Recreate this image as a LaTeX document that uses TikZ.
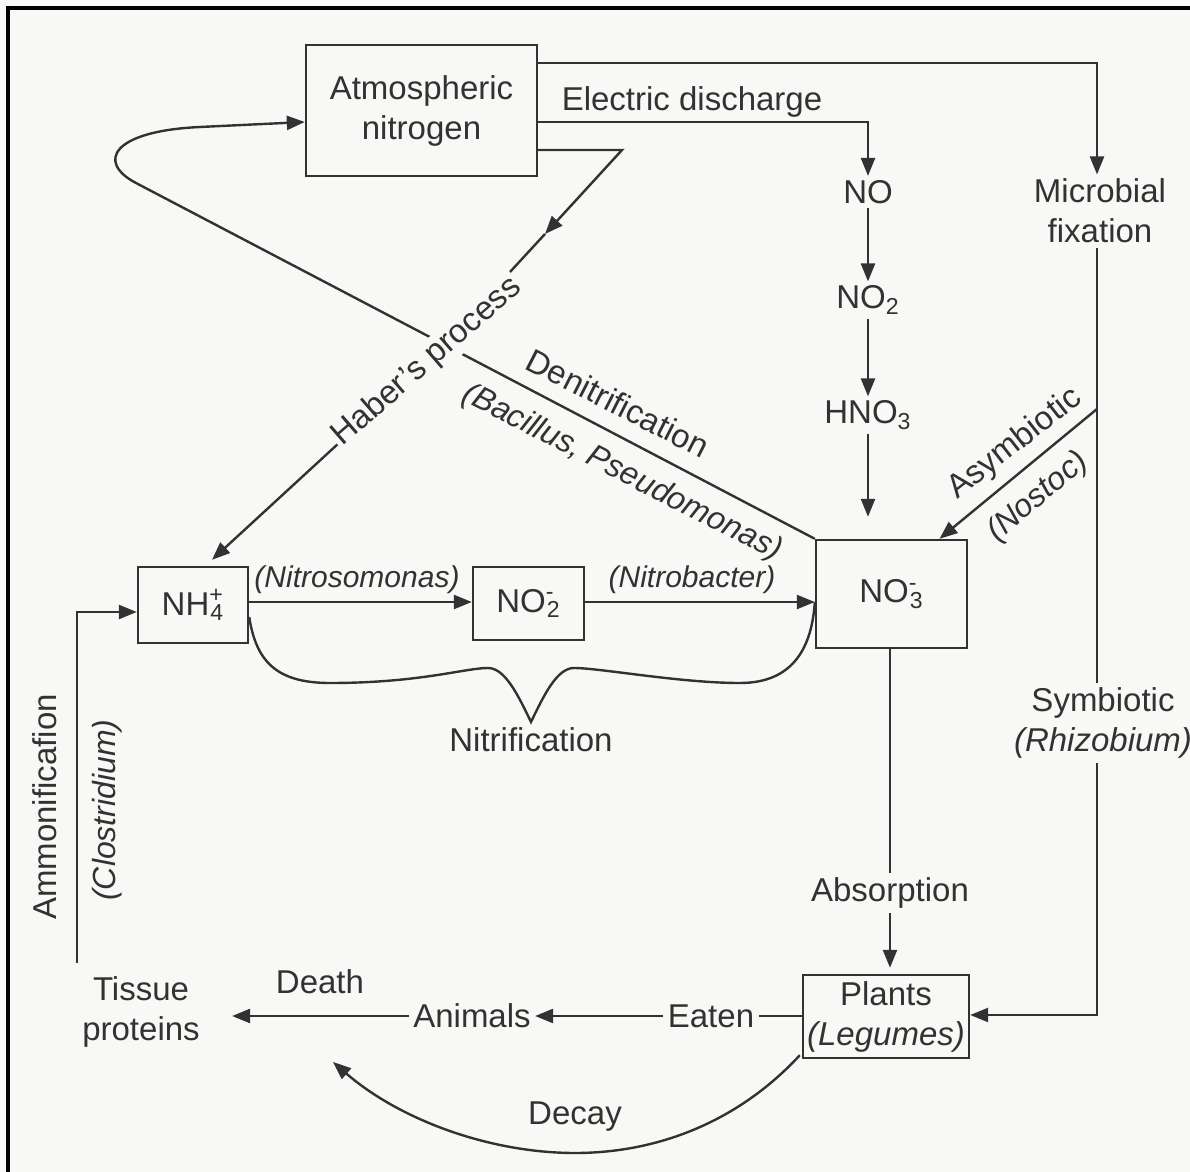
\documentclass[tikz,border=0pt]{standalone}
\usepackage{fontspec}
\setmainfont{Liberation Sans}
\usetikzlibrary{arrows.meta}
\definecolor{bg}{RGB}{248,248,247}
\definecolor{ink}{RGB}{50,50,50}
\newcommand\chemion[3]{#1\textsuperscript{\rlap{#2}}\textsubscript{#3}}
\begin{document}
\begin{tikzpicture}[x=0.5pt,y=-0.5pt,
  lbl/.style={text=ink, font=\fontsize{16.5}{20}\selectfont, inner sep=2pt, align=center},
  ilbl/.style={lbl, font=\fontsize{16}{20}\selectfont\itshape},
  slbl/.style={lbl, font=\fontsize{15}{18}\selectfont\itshape},
  boxn/.style={lbl, draw=ink, line width=1.2pt, inner sep=0pt},
  conn/.style={draw=ink, line width=1.2pt},
  arr/.style={conn, -{Triangle[length=9pt,width=7pt]}},
]
\fill[bg] (0,0) rectangle (1190,1172);
\useasboundingbox (0,0) rectangle (1190,1172);
\draw[line width=2pt] (8,1172) -- (8,8) -- (1190,8);

% boxes
\node[boxn, minimum width=115.5pt, minimum height=65.5pt] (atm) at (421.5,110.5) {Atmospheric\\nitrogen};
\node[boxn, minimum width=55pt, minimum height=38pt] (nh4) at (193,605) {\chemion{NH}{+}{4}};
\node[boxn, minimum width=55.5pt, minimum height=36.5pt] (no2) at (528.5,603.5) {\chemion{NO}{-}{2}};
\node[boxn, minimum width=75.5pt, minimum height=54pt] (no3) at (891.5,594) {\chemion{NO}{-}{3}};
\node[boxn, minimum width=83pt, minimum height=41.5pt] (plants) at (886,1016.5) {Plants\\\textit{(Legumes)}};

% text nodes
\node[lbl] (ed) at (692,102) {Electric discharge};
\node[lbl] (no) at (868,192) {NO};
\node[lbl] (nod) at (868,300) {NO\textsubscript{2}};
\node[lbl] (hno) at (868,415) {HNO\textsubscript{3}};
\node[lbl] (mic) at (1100,211) {Microbial\\fixation};
\node[lbl] (sym) at (1103,723) {Symbiotic\\\textit{(Rhizobium)}};
\node[lbl] (abs) at (890,893) {Absorption};
\node[lbl] (eat) at (711,1016) {Eaten};
\node[lbl] (ani) at (472,1016) {Animals};
\node[lbl] (tis) at (141,1012) {Tissue\\proteins};
\node[lbl] (dea) at (320,982) {Death};
\node[lbl] (dec) at (575,1117) {Decay};
\node[lbl] (nit) at (531,740) {Nitrification};
\node[slbl] (nso) at (357,580) {(Nitrosomonas)};
\node[slbl] (nba) at (692,580) {(Nitrobacter)};
\node[lbl, rotate=-27] (den) at (618,403) {Denitrification};
\node[ilbl, rotate=-27] (bac) at (622,473) {(Bacillus, Pseudomonas)};
\node[lbl, rotate=38] (asy) at (1015,444) {Asymbiotic};
\node[ilbl, rotate=40] (nos) at (1038,497) {(Nostoc)};
\node[lbl, rotate=90] (amm) at (45,807) {Ammonificafion};
\node[ilbl, rotate=90] (clo) at (107,810) {(Clostridium)};

% top connectors
\coordinate (tl) at (1097,63);
\draw[arr] (atm.east |- tl) -- (tl) -- (tl |- mic.north);
\coordinate (el) at (868,122);
\draw[arr] (atm.east |- el) -- (el) -- (no.north);
\draw[arr] (no.south) -- (nod.north);
\draw[arr] (nod.south) -- (hno.north);
\draw[arr, shorten >=11pt] (hno.south) -- (hno.south |- no3.north);

% denitrification
\coordinate (dn1) at (136,183);
\coordinate (dn2) at (200,127);
\coordinate (dny) at (0,122);
\draw[arr] (no3.north west) -- (dn1) .. controls (96,162) and (112,131) .. (dn2) -- (atm.west |- dny);

% Haber
\coordinate (hv) at (622,150);
\coordinate (hm) at (545,234);
\coordinate (hx) at (427,362);
\draw[arr] (atm.east |- hv) -- (hv) -- (hm);
\draw[arr] (hm) -- (hx) -- ([shift={(19,-6)}]nh4.north);
\node[lbl, rotate=41, fill=bg, inner sep=1pt] (hab) at (hx) {Haber’s process};

% nitrification
\coordinate (ny) at (0,602);
\coordinate (by) at (0,617);
\draw[arr] (nh4.east |- ny) -- (no2.west |- ny);
\draw[arr] (no2.east |- ny) -- (no3.west |- ny);
\draw[conn] (nh4.east |- by) .. controls (256,660) and (275,683) .. (330,683)
  .. controls (420,683) and (465,668) .. (488,668)
  .. controls (505,668) and (518,695) .. (531,722)
  .. controls (544,695) and (557,668) .. (574,668)
  .. controls (600,668) and (680,683) .. (740,683)
  .. controls (795,683) and (812,645) .. (no3.west |- ny);

% microbial fixation
\coordinate (mx) at (1097,0);
\coordinate (as) at (1097,409);
\coordinate (sy) at (1097,1015);
\draw[conn] (mic.south -| mx) -- (sym.north -| mx);
\draw[arr] (as) -- ([shift={(48,0)}]no3.north);
\draw[arr] (sym.south -| mx) -- (sy) -- (plants.east |- sy);

% absorption
\draw[conn] (no3.south -| abs) -- (abs.north);
\draw[arr, shorten >=3pt] (abs.south) -- (abs.south |- plants.north);

% food chain
\draw[conn] (plants.west |- eat) -- (eat.east);
\draw[arr] (eat.west) -- (ani.east);
\draw[arr, shorten >=14pt] (ani.west) -- (tis.east |- ani);

% ammonification
\coordinate (amb) at (77,963);
\coordinate (am) at (77,612);
\draw[arr] (amb) -- (am) -- (nh4.west |- am);

% decay
\coordinate (dtip) at (333,1062);
\draw[arr] ([shift={(-2,-4)}]plants.south west) .. controls (740,1120) and (660,1153) .. (575,1153)
  .. controls (490,1153) and (400,1120) .. (dtip);
\end{tikzpicture}
\end{document}
